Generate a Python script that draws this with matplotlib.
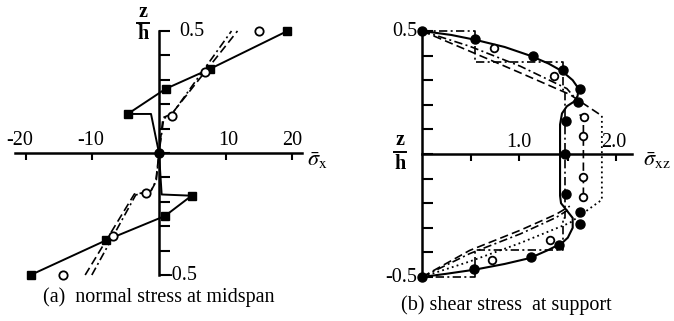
import numpy as np
import matplotlib
matplotlib.use('Agg')
import matplotlib.pyplot as plt
from matplotlib.lines import Line2D

plt.rcParams['font.family'] = ['Liberation Serif', 'DejaVu Serif']
plt.rcParams['mathtext.fontset'] = 'stix'

# ---- (a) normal stress at midspan: (sigma_x, z/h) ----
sq_sigma = [19.3, 7.7, 1.0, -4.7, 4.9, 0.9, -7.9, -19.3]
sq_z = [0.5, 0.345, 0.263, 0.16, -0.175, -0.258, -0.357, -0.5]
solid_a_sigma = [19.3, 7.7, 1.0, -4.7, -1.2, 0.0, 0.4, 4.9, 0.9, -7.9, -19.3]
solid_a_z = [0.5, 0.345, 0.263, 0.16, 0.16, 0.0, -0.17, -0.175, -0.258, -0.357, -0.5]
open_a_sigma = [15.1, 6.9, 1.9, -1.9, -6.9, -14.4]
open_a_z = [0.5, 0.333, 0.153, -0.163, -0.342, -0.5]
dash_a_sigma = [-11.1, -3.7, -1.3, -0.5, 0.0, 0.6, 1.9, 11.8]
dash_a_z = [-0.5, -0.168, -0.16, -0.12, 0.0, 0.145, 0.16, 0.5]
dd_a_sigma = [-10.1, -3.5, -1.2, -0.4, 0.0, 0.7, 2.1, 10.9]
dd_a_z = [-0.5, -0.172, -0.155, -0.11, 0.0, 0.14, 0.165, 0.5]

# ---- (b) shear stress at support: (tau_xz, z/h) ----
solid_b_tau = [0.0, 0.3, 0.55, 0.85, 1.11, 1.3, 1.44, 1.55, 1.61, 1.60, 1.56, 1.49,
               1.44, 1.42, 1.42, 1.43, 1.49, 1.55, 1.55, 1.50, 1.44, 1.30, 1.11,
               0.85, 0.545, 0.25, 0.0]
solid_b_z = [0.5, 0.484, 0.464, 0.435, 0.40, 0.368, 0.337, 0.30, 0.266, 0.235,
             0.212, 0.194, 0.165, 0.12, -0.17, -0.20, -0.23, -0.26, -0.30, -0.34,
             -0.362, -0.39, -0.423, -0.447, -0.47, -0.487, -0.5]
dot_b_tau = [0.0, 0.55, 1.14, 1.455, 1.63, 1.60, 1.48, 1.47, 1.48, 1.63, 1.63,
             1.41, 1.12, 0.53, 0.0]
dot_b_z = [0.5, 0.466, 0.40, 0.34, 0.266, 0.211, 0.135, 0.0, -0.163, -0.237,
           -0.286, -0.37, -0.42, -0.466, -0.5]
open_b_tau = [0.74, 1.36, 1.67, 1.66, 1.66, 1.66, 1.32, 0.72]
open_b_z = [0.429, 0.318, 0.152, 0.072, -0.094, -0.173, -0.35, -0.43]
dash_b_tau = [0.0, 0.49, 1.01, 1.52, 1.85]
dash_b_z = [0.5, 0.418, 0.33, 0.242, 0.155]
dash_b2_tau = [0.0, 0.49, 1.01, 1.38, 1.52]
dash_b2_z = [-0.5, -0.392, -0.31, -0.245, -0.212]
dot_line_tau = [1.85, 1.85, 1.52, 1.01, 0.49, 0.0]
dot_line_z = [0.155, -0.186, -0.28, -0.362, -0.437, -0.5]
dd_b_tau = [0.0, 0.49, 1.01, 1.49, 1.58]
dd_b_z = [0.5, 0.438, 0.357, 0.266, 0.225]
dd_b2_tau = [0.0, 0.49, 1.01, 1.38, 1.50]
dd_b2_z = [-0.5, -0.405, -0.325, -0.258, -0.228]
step_tau = [0.0, 0.545, 0.545, 1.45, 1.45, 1.47, 1.47, 1.45, 1.45, 0.545, 0.545, 0.0]
step_z = [0.5, 0.5, 0.375, 0.375, 0.26, 0.26, -0.26, -0.26, -0.39, -0.39, -0.5, -0.5]
core_open_tau = [1.62, 1.66, 1.66, 1.62]
core_open_z = [0.16, 0.15, -0.17, -0.18]

yticks = np.round(np.arange(-0.5, 0.51, 0.1), 2)

W, H = 674, 321
FS = 14.5
fig = plt.figure(figsize=(W / 100, H / 100), dpi=100)

DASH = (0, (5, 2.5))
DASHDOT = (0, (5, 2, 1.2, 2))
DOT = (0, (1, 1.8))

# panel (a)
ax = fig.add_axes([15 / W, 1 - 275 / H, 287 / W, 244 / H])
ax.set_xlim(-21.65, 21.5)
ax.set_ylim(-0.5, 0.5)
for s in ['top', 'right']:
    ax.spines[s].set_visible(False)
ax.spines['left'].set_position(('data', 0))
ax.spines['bottom'].set_position(('data', 0))
for s in ['left', 'bottom']:
    ax.spines[s].set_linewidth(1.8)
ax.set_yticks(yticks)
ax.set_yticklabels([])
ax.tick_params(axis='y', direction='in', length=8, width=1.5)
ax.set_xticks([-20, -10, 10, 20])
ax.set_xticklabels([])
ax.tick_params(axis='x', direction='out', length=5, width=1.5)
ax.patch.set_alpha(0)

ax.plot(dash_a_sigma, dash_a_z, color='k', lw=1.2, ls=DASH, clip_on=False)
ax.plot(dd_a_sigma, dd_a_z, color='k', lw=1.2, ls=DASHDOT, clip_on=False)
ax.plot(solid_a_sigma, solid_a_z, color='k', lw=1.4, clip_on=False)
ax.plot(sq_sigma, sq_z, 's', color='k', ms=6, clip_on=False)
ax.plot([0], [0], 'o', color='k', ms=6.5, clip_on=False)
ax.plot(open_a_sigma, open_a_z, 'o', mfc='white', mec='k', mew=1.3, ms=6,
        clip_on=False)

for v, lab in zip([-20.9, -10.2, 10.4, 20.0], ['-20', '-10', '10', '20']):
    ax.text(v, 0.05, lab, ha='center', va='center', fontsize=FS)
ax.text(3.0, 0.5, '0.5', ha='left', va='center', fontsize=FS)
ax.text(0.9, -0.5, '-0.5', ha='left', va='center', fontsize=FS)
fig.text(307 / W, 1 - 161 / H, r'$\bar{\sigma}_{\rm x}$', fontsize=16,
         ha='left', va='center')

# panel (b)
bx = fig.add_axes([422 / W, 1 - 277 / H, 210 / W, 246 / H])
bx.set_xlim(0, 2.16)
bx.set_ylim(-0.5, 0.5)
for s in ['top', 'right']:
    bx.spines[s].set_visible(False)
bx.spines['bottom'].set_position(('data', 0))
for s in ['left', 'bottom']:
    bx.spines[s].set_linewidth(1.8)
bx.set_yticks(yticks)
bx.set_yticklabels([])
bx.tick_params(axis='y', direction='in', length=8, width=1.5)
bx.set_xticks([0.5, 1.0, 1.5, 2.0])
bx.set_xticklabels([])
bx.tick_params(axis='x', direction='out', length=5, width=1.5)
bx.patch.set_alpha(0)

bx.plot(step_tau, step_z, color='k', lw=1.2, ls=DASHDOT, clip_on=False)
bx.plot(dd_b_tau, dd_b_z, color='k', lw=1.2, ls=DASHDOT, clip_on=False)
bx.plot(dd_b2_tau, dd_b2_z, color='k', lw=1.2, ls=DASHDOT, clip_on=False)
bx.plot(dash_b_tau, dash_b_z, color='k', lw=1.2, ls=DASH, clip_on=False)
bx.plot(dash_b2_tau, dash_b2_z, color='k', lw=1.2, ls=DASH, clip_on=False)
bx.plot(dot_line_tau, dot_line_z, color='k', lw=1.3, ls=DOT, clip_on=False)
bx.plot(core_open_tau, core_open_z, color='k', lw=1.2, ls=DASH, clip_on=False)
bx.plot(solid_b_tau, solid_b_z, color='k', lw=1.5, clip_on=False)
bx.plot(dot_b_tau, dot_b_z, 'o', color='k', ms=6.5, clip_on=False)
bx.plot(open_b_tau, open_b_z, 'o', mfc='white', mec='k', mew=1.3, ms=5.5,
        clip_on=False)

bx.text(1.0, 0.045, '1.0', ha='center', va='center', fontsize=FS)
bx.text(1.97, 0.045, '2.0', ha='center', va='center', fontsize=FS)
bx.text(-0.05, 0.5, '0.5', ha='right', va='center', fontsize=FS)
bx.text(-0.05, -0.5, '-0.5', ha='right', va='center', fontsize=FS)
fig.text(643 / W, 1 - 161 / H, r'$\bar{\sigma}_{\rm xz}$', fontsize=16,
         ha='left', va='center')

# z/h labels
for xc, yz, yb, yh in [(143, 12, 23, 34), (400, 140, 152, 164)]:
    fig.text(xc / W, 1 - yz / H, 'z', ha='center', va='center', fontsize=FS,
             fontweight='bold')
    fig.text(xc / W, 1 - yh / H, 'h', ha='center', va='center', fontsize=FS,
             fontweight='bold')
    fig.add_artist(Line2D([(xc - 6) / W, (xc + 6) / W], [1 - yb / H, 1 - yb / H],
                          color='k', lw=1.4))

fig.text(159 / W, 1 - 297 / H, '(a)  normal stress at midspan', ha='center',
         va='center', fontsize=FS)
fig.text(506 / W, 1 - 305 / H, '(b) shear stress  at support', ha='center',
         va='center', fontsize=FS)

fig.savefig('out.png', dpi=100)
